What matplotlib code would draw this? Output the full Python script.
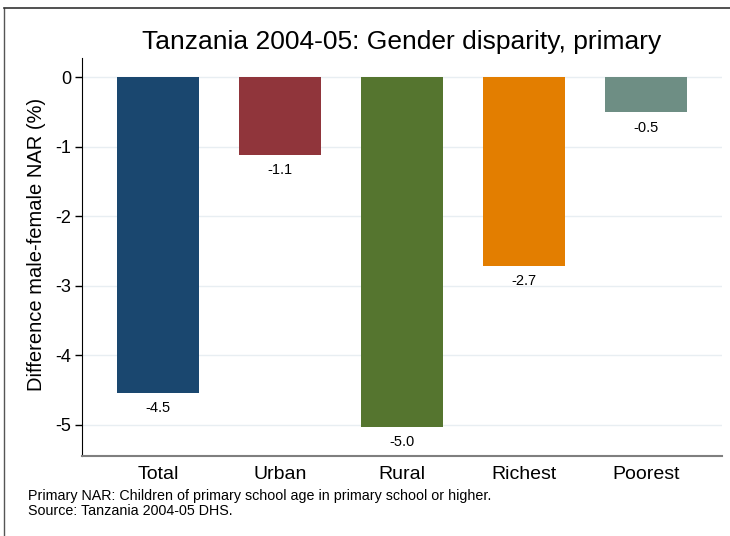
import matplotlib
matplotlib.use("Agg")
import matplotlib.pyplot as plt
from matplotlib.lines import Line2D

plt.rcParams['font.family'] = ['Liberation Sans', 'DejaVu Sans']

# dados
categorias = ["Total", "Urban", "Rural", "Richest", "Poorest"]
valores = [-4.54, -1.11, -5.03, -2.71, -0.50]
rotulos = ["-4.5", "-1.1", "-5.0", "-2.7", "-0.5"]
cores = ["#1a476f", "#90353b", "#55752f", "#e37e00", "#6e8e84"]
yticks = [0, -1, -2, -3, -4, -5]

fig = plt.figure(figsize=(7.3, 5.36), dpi=100)
ax = fig.add_axes([82/730, 80/536, 640/730, 398/536])

x = list(range(len(categorias)))
ax.bar(x, valores, width=0.672, color=cores, zorder=2)
for xi, v, r in zip(x, valores, rotulos):
    ax.annotate(r, (xi, v), xytext=(0, -6), textcoords='offset points',
                ha='center', va='top', fontsize=10.5)

ax.set_xlim(-0.623, 4.623)
ax.set_ylim(-5.446, 0.28)
ax.set_yticks(yticks)
ax.set_yticklabels([str(t) for t in yticks], fontsize=13)
ax.set_xticks(x)
ax.set_xticklabels(categorias, fontsize=14)
ax.tick_params(axis='x', length=0, pad=7)
ax.tick_params(axis='y', length=5, width=1, color='black', pad=3)
ax.grid(axis='y', color='#e8eef2', lw=1, zorder=0)
ax.set_axisbelow(True)
for s in ['top', 'right']:
    ax.spines[s].set_visible(False)
ax.spines['left'].set_color('black')
ax.spines['bottom'].set_color('#7f7f7f')
ax.spines['bottom'].set_linewidth(1.5)
ax.set_ylabel('Difference male-female NAR (%)', fontsize=14.5)
ax.yaxis.set_label_coords(-36/640, (456 - 244)/398)

fig.text(402/730, 1 - 42/536, 'Tanzania 2004-05: Gender disparity, primary',
         ha='center', va='center', fontsize=19)
fig.text(28/730, 1 - 496/536, 'Primary NAR: Children of primary school age in primary school or higher.',
         ha='left', va='center', fontsize=10.3)
fig.text(28/730, 1 - 511/536, 'Source: Tanzania 2004-05 DHS.',
         ha='left', va='center', fontsize=10.3)

# moldura (só esquerda e topo aparecem)
fig.add_artist(Line2D([4/730, 4/730], [0, 1 - 8/536], transform=fig.transFigure, color='#555555', lw=1))
fig.add_artist(Line2D([4/730, 1], [1 - 8/536, 1 - 8/536], transform=fig.transFigure, color='#333333', lw=1.2))

fig.savefig('out.png', dpi=100)
